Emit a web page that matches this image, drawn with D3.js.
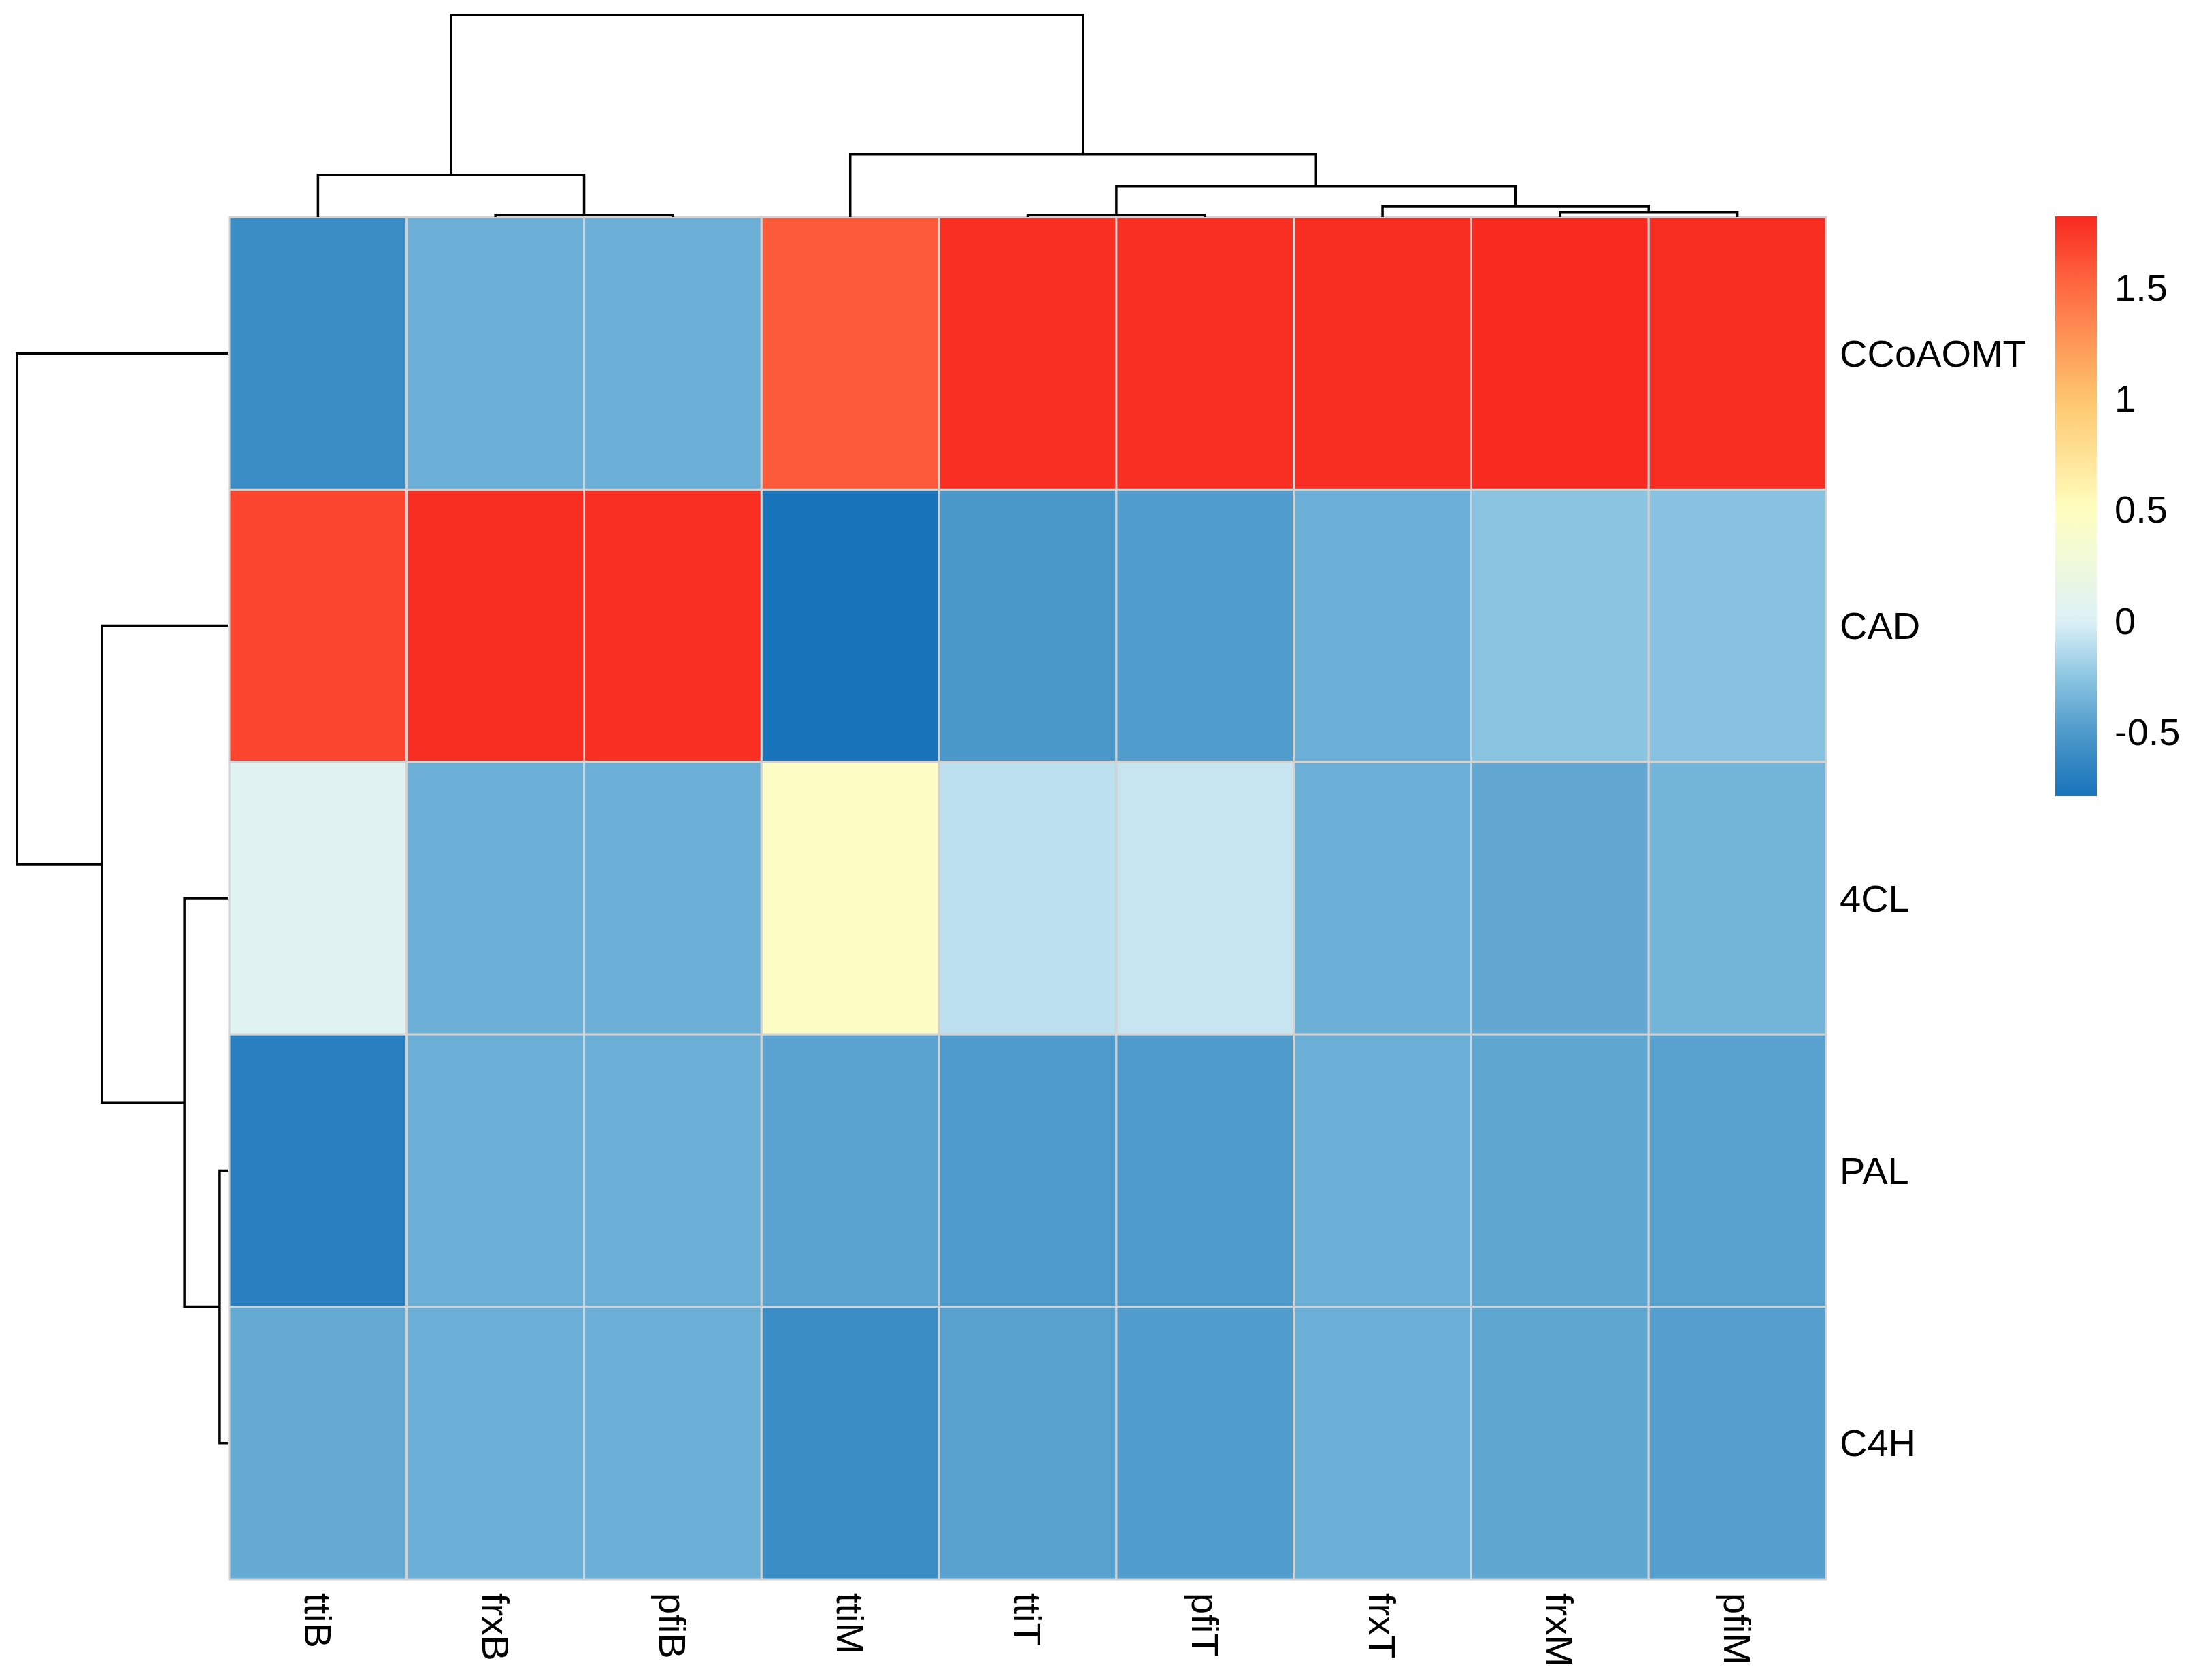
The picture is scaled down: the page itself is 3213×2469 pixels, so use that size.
<!DOCTYPE html>
<html>
<head>
<meta charset="utf-8">
<script src="https://cdn.jsdelivr.net/npm/d3@7"></script>
<style>
body { margin: 0; background: #fff; }
text { font-family: "Liberation Sans", Arial, sans-serif; fill: #000; }
</style>
</head>
<body>
<div id="chart"></div>
<script>
const rowLabels = ["CCoAOMT", "CAD", "4CL", "PAL", "C4H"];
const colLabels = ["ttiB", "frxB", "pfiB", "ttiM", "ttiT", "pfiT", "frxT", "frxM", "pfiM"];

// expression values, one array per row (same order as rowLabels)
const values = [
    [-0.60, -0.38, -0.38, 1.58, 1.79, 1.79, 1.80, 1.81, 1.80],
    [1.68, 1.80, 1.79, -0.78, -0.52, -0.49, -0.38, -0.26, -0.27],
    [0.05, -0.38, -0.38, 0.45, -0.10, -0.07, -0.38, -0.42, -0.35],
    [-0.70, -0.38, -0.38, -0.45, -0.50, -0.50, -0.38, -0.43, -0.46],
    [-0.41, -0.38, -0.38, -0.60, -0.46, -0.49, -0.38, -0.43, -0.47]
];

// hclust-style merges: negative = leaf (display order), positive = earlier merge
const rowMerge = [[-4, -5], [-3, 1], [-2, 2], [-1, 3]];
const rowHeight = [0.39, 2.06, 5.97, 10];
const colMerge = [[-2, -3], [-5, -6], [-8, -9], [-7, 3], [2, 4], [-1, 1], [-4, 5], [6, 7]];
const colHeight = [0.10, 0.10, 0.24, 0.54, 1.52, 2.09, 3.11, 10];

// legend
const legendTicks = [-0.5, 0, 0.5, 1, 1.5];
const legendLabels = ["-0.5", "0", "0.5", "1", "1.5"];
const valueRange = [-0.79, 1.82];
const colorStops = [-0.79, -0.5, -0.25, 0, 0.5, 1.0, 1.5, 1.82];
const colorList = ["#1873BA", "#4E9ACB", "#8CC6E2", "#DDF1F7", "#FFFFBF", "#FEC56C", "#FF6A42", "#F8291F"];

const width = 3213;
const height = 2469;
const hmLeft = 337, hmRight = 2684, hmTop = 319, hmBottom = 2321;

const svg = d3.select("#chart").append("svg")
    .attr("width", width)
    .attr("height", height);

const color = d3.scaleLinear().domain(colorStops).range(colorList).clamp(true);
const x = d3.scaleBand().domain(colLabels).range([hmLeft, hmRight]);
const y = d3.scaleBand().domain(rowLabels).range([hmTop, hmBottom]);

// cells
const cells = [];
values.forEach((row, i) => row.forEach((v, j) => cells.push({ r: rowLabels[i], c: colLabels[j], v: v })));

svg.append("g")
    .selectAll("rect")
    .data(cells)
    .enter().append("rect")
    .attr("x", d => x(d.c))
    .attr("y", d => y(d.r))
    .attr("width", x.bandwidth())
    .attr("height", y.bandwidth())
    .attr("fill", d => color(d.v))
    .attr("stroke", "#d2d2d2")
    .attr("stroke-width", 3);

// row labels
svg.append("g")
    .selectAll("text")
    .data(rowLabels)
    .enter().append("text")
    .attr("x", hmRight + 20)
    .attr("y", d => y(d) + y.bandwidth() / 2)
    .attr("dy", "0.35em")
    .attr("font-size", 56)
    .text(d => d);

// column labels, rotated to read downwards
svg.append("g")
    .selectAll("text")
    .data(colLabels)
    .enter().append("text")
    .attr("transform", d => `translate(${x(d) + x.bandwidth() / 2},${hmBottom + 20}) rotate(90)`)
    .attr("dy", "0.35em")
    .attr("font-size", 56)
    .text(d => d);

// dendrograms
function drawTree(merge, heights, leafPos, hScale, horizontal) {
    const pos = [];
    const g = svg.append("g")
        .attr("fill", "none")
        .attr("stroke", "#000")
        .attr("stroke-width", 3.5);
    merge.forEach((m, i) => {
        const p = m.map(c => c < 0 ? leafPos(-c - 1) : pos[c - 1]);
        const h = m.map(c => c < 0 ? 0 : heights[c - 1]);
        pos[i] = (p[0] + p[1]) / 2;
        const hh = hScale(heights[i]);
        const d = horizontal
            ? `M${hScale(h[0])},${p[0]}H${hh}V${p[1]}H${hScale(h[1])}`
            : `M${p[0]},${hScale(h[0])}V${hh}H${p[1]}V${hScale(h[1])}`;
        g.append("path").attr("d", d);
    });
}

const colH = d3.scaleLinear().domain([0, d3.max(colHeight)]).range([hmTop, 22]);
drawTree(colMerge, colHeight, i => x(colLabels[i]) + x.bandwidth() / 2, colH, false);

const rowH = d3.scaleLinear().domain([0, d3.max(rowHeight)]).range([hmLeft - 2, 25]);
drawTree(rowMerge, rowHeight, i => y(rowLabels[i]) + y.bandwidth() / 2, rowH, true);

// colour legend
const lx = 3021, lw = 61;
const ly = d3.scaleLinear().domain(valueRange).range([1170, 318]);
const grad = svg.append("defs").append("linearGradient")
    .attr("id", "legendGrad")
    .attr("x1", 0).attr("y1", 1).attr("x2", 0).attr("y2", 0);
grad.selectAll("stop")
    .data(d3.range(0, 1.0001, 0.02))
    .enter().append("stop")
    .attr("offset", d => d)
    .attr("stop-color", d => color(valueRange[0] + d * (valueRange[1] - valueRange[0])));

svg.append("rect")
    .attr("x", lx)
    .attr("y", ly(valueRange[1]))
    .attr("width", lw)
    .attr("height", ly(valueRange[0]) - ly(valueRange[1]))
    .attr("fill", "url(#legendGrad)");

svg.append("g")
    .selectAll("text")
    .data(legendTicks)
    .enter().append("text")
    .attr("x", 3108)
    .attr("y", d => ly(d))
    .attr("dy", "0.35em")
    .attr("font-size", 56)
    .text((d, i) => legendLabels[i]);
</script>
</body>
</html>
